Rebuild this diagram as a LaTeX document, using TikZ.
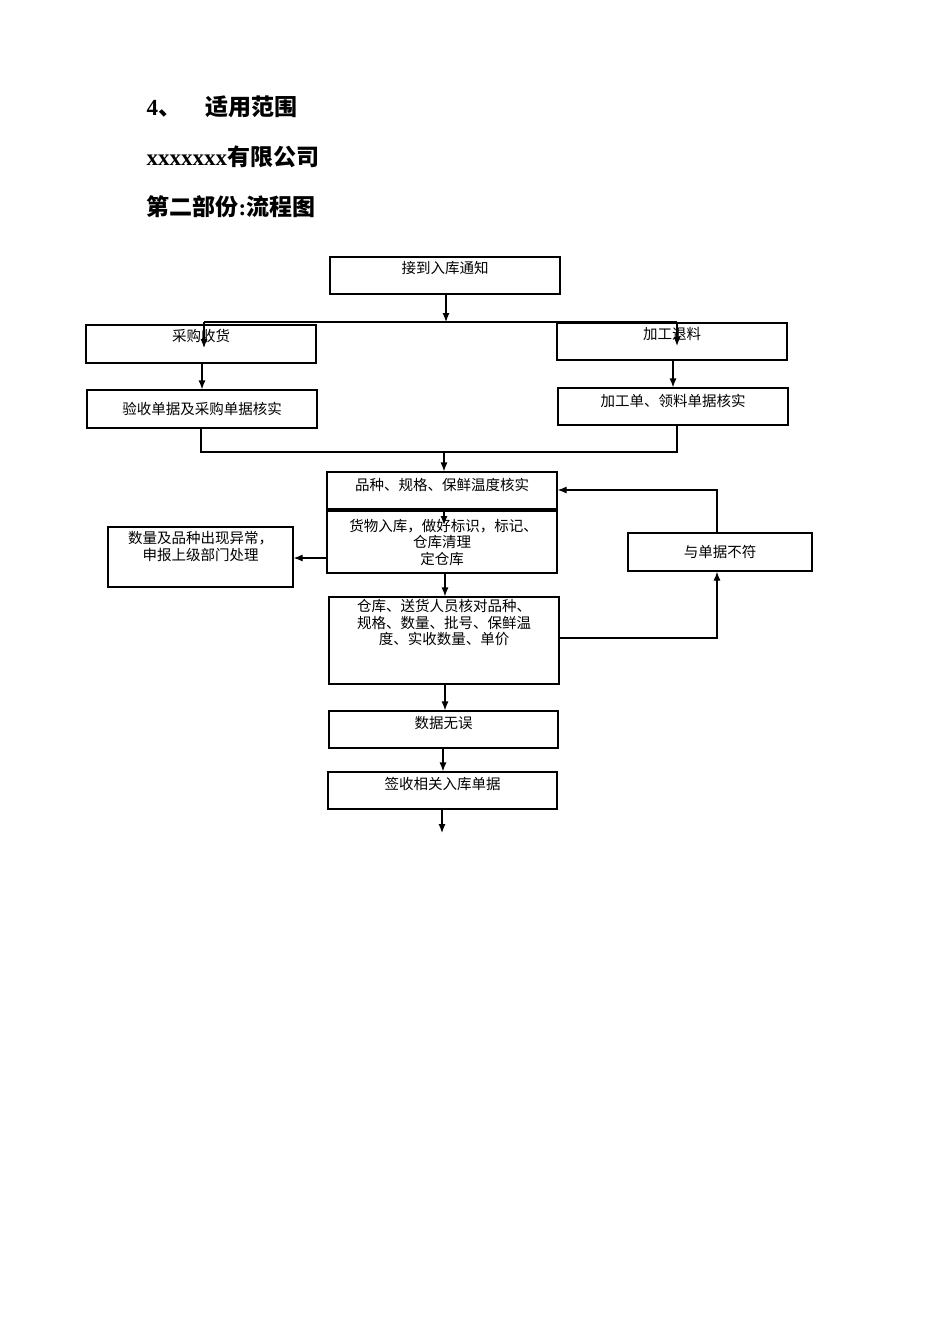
\documentclass[tikz,border=0pt]{standalone}
\usepackage{fontspec}
\setmainfont{Liberation Serif}
\newfontfamily\cjk{Noto Sans CJK SC}
\usetikzlibrary{arrows.meta}
\begin{document}
\begin{tikzpicture}[x=1pt,y=-1pt,
  bx/.style={draw,line width=1.2pt,rectangle,inner sep=0pt,font=\cjk\fontsize{14.5}{16.5}\selectfont,align=center},
  ar/.style={-{Latex[length=9pt,width=7pt]},line width=1.2pt},
  ln/.style={line width=1.2pt}]
\useasboundingbox (0,0) rectangle (950,1344);
\node[anchor=west,font=\bfseries\fontsize{23}{26}\selectfont] (h1) at (143,107) {4{\cjk 、}\hspace{24pt}{\cjk 适用范围}};
\node[anchor=west,font=\bfseries\fontsize{23}{26}\selectfont] (h2) at (143,157) {xxxxxxx{\cjk 有限公司}};
\node[anchor=west,font=\bfseries\fontsize{23}{26}\selectfont] (h3) at (143,207) {{\cjk 第二部份}:{\cjk 流程图}};
\node[bx,minimum width=230,minimum height=37] (A) at (445,275.5) {接到入库通知\\[0pt]};
\node[bx,minimum width=230,minimum height=38] (B) at (201,344) {采购收货\\[0pt]};
\node[bx,minimum width=230,minimum height=37] (C) at (672,341.5) {加工退料\\[0pt]};
\node[bx,minimum width=230,minimum height=38] (D) at (202,409) {验收单据及采购单据核实};
\node[bx,minimum width=230,minimum height=37] (E) at (673,406.5) {加工单、领料单据核实\\[-4pt]};
\node[bx,minimum width=230,minimum height=37] (F) at (442,490.5) {品种、规格、保鲜温度核实\\[-4pt]};
\node[bx,minimum width=230,minimum height=62] (G) at (442,542) {\ 货物入库，做好标识，标记、\\仓库清理\\定仓库};
\node[bx,minimum width=185,minimum height=60] (H) at (200.5,557) {数量及品种出现异常，\\申报上级部门处理\\[6pt]};
\node[bx,minimum width=184,minimum height=38] (I) at (720,552) {与单据不符};
\node[bx,minimum width=230,minimum height=87] (J) at (444,640.5) {仓库、送货人员核对品种、\\规格、数量、批号、保鲜温\\度、实收数量、单价\\[20pt]};
\node[bx,minimum width=229,minimum height=37] (K) at (443.5,729.5) {数据无误\\[-2pt]};
\node[bx,minimum width=229,minimum height=37] (L) at (442.5,790.5) {签收相关入库单据\\[-2pt]};
\coordinate (end) at (442,833);
\coordinate (s) at (446,322);
\draw[ar] (A.south -| s) -- (s);
\draw[ln] (204,322) -- (677,322);
\draw[ar] (204,322) -- (204,348);
\draw[ar] (677,322) -- (677,346);
\draw[ar] (B.south -| 202,0) -- (D.north -| 202,0);
\draw[ar] (C.south -| 673,0) -- (E.north -| 673,0);
\draw[ln] (D.south -| 201,0) -- (201,452) -- (677,452) -- (E.south -| 677,0);
\draw[ar] (444,452) -- (F.north -| 444,0);
\draw[ar] (F.south -| 444,0) -- (444,525);
\draw[ar] (G.west |- 0,558) -- (H.east |- 0,558);
\draw[ar] (G.south -| 445,0) -- (J.north -| 445,0);
\draw[ar] (J.east |- 0,638) -- (717,638) -- (I.south -| 717,0);
\draw[ar] (I.north -| 717,0) -- (717,490) -- (F.east |- 0,490);
\draw[ar] (J.south -| 445,0) -- (K.north -| 445,0);
\draw[ar] (K.south -| 443,0) -- (L.north -| 443,0);
\draw[ar] (L.south -| 442,0) -- (end);
\end{tikzpicture}
\end{document}
